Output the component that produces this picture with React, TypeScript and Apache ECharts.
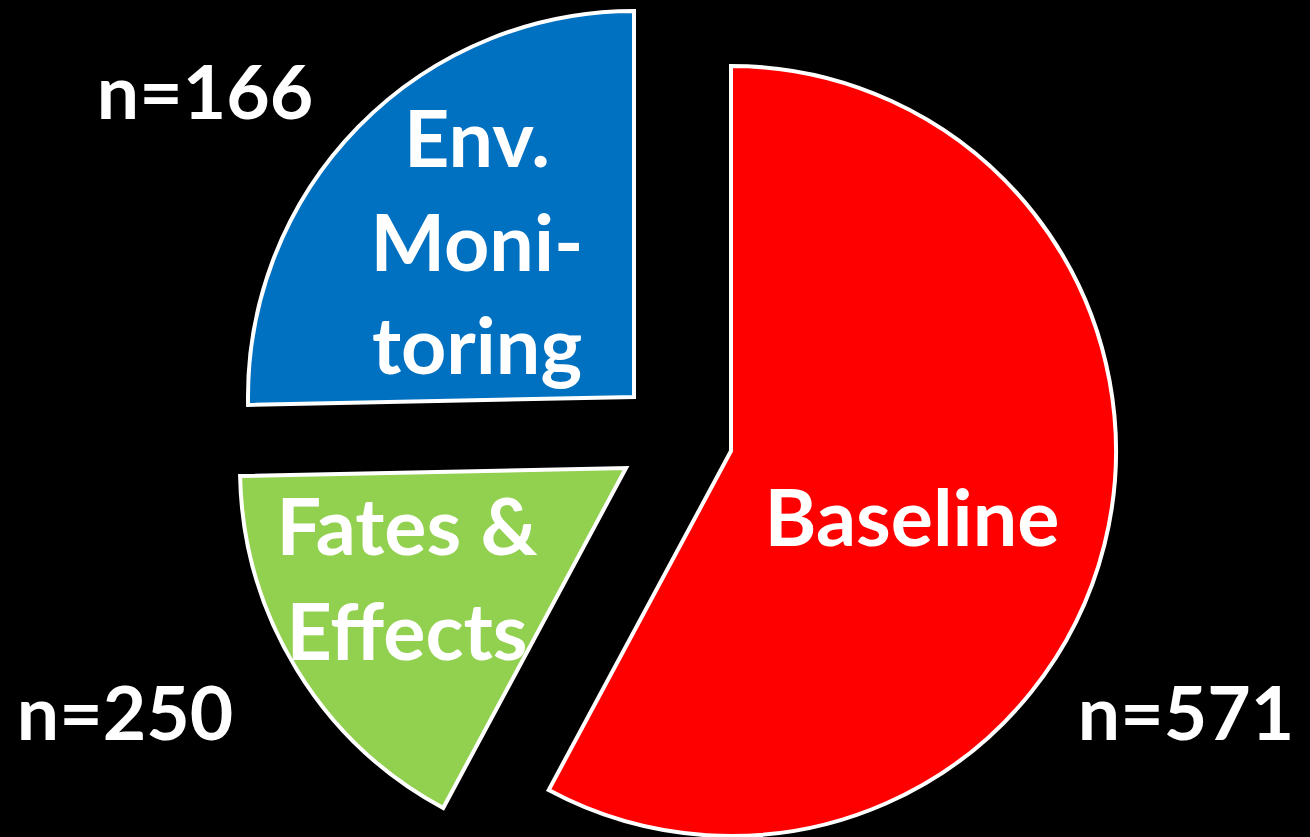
import React, { useEffect, useRef } from "react";
import * as echarts from "echarts";

// Data (clockwise from 12 o'clock)
const categories = ["Baseline", "Fates & Effects", "Env. Monitoring"];
const values = [571, 166, 250];
const colors = ["#FF0000", "#92D050", "#0070C0"];
// Slice label texts as drawn (with manual line breaks)
const sliceLabels = ["Baseline", "Fates &\nEffects", "Env.\nMoni-\ntoring"];
// Count annotations as shown on the picture
const countLabels = ["n=571", "n=250", "n=166"];

// Layout (positions / sizes)
const sliceCenters: [number, number][] = [
  [731, 451],
  [626, 468],
  [634, 397],
];
const sliceRadius = [385, 386, 386];
const sliceLabelPos: [number, number, number][] = [
  // x, y(center of block), lineHeight
  [912, 515, 104],
  [407, 577, 105],
  [477, 240, 103.5],
];
const countLabelPos: [number, number][] = [
  [1186, 711],
  [125, 711],
  [205, 90],
];

const FONT = "Lato";
const FS = 75;
const FS_SLICE = 79;

export default function App() {
  const ref = useRef<HTMLDivElement>(null);
  useEffect(() => {
    if (!ref.current) return;
    const chart = echarts.init(ref.current, undefined, { renderer: "svg" });
    const series = categories.map((_, si) => ({
      type: "pie",
      silent: true,
      z: 2,
      center: sliceCenters[si],
      radius: sliceRadius[si],
      startAngle: 90,
      clockwise: true,
      label: { show: false },
      labelLine: { show: false },
      emphasis: { disabled: true },
      data: categories.map((name, i) => ({
        name,
        value: values[i],
        itemStyle:
          i === si
            ? { color: colors[i], borderColor: "#FFFFFF", borderWidth: 4, borderJoin: "miter" }
            : { color: "transparent", borderWidth: 0 },
      })),
    }));
    const graphic: any[] = [];
    sliceLabels.forEach((t, i) => {
      graphic.push({
        type: "text",
        x: sliceLabelPos[i][0],
        y: sliceLabelPos[i][1],
        z: 100,
        silent: true,
        style: {
          text: t,
          fill: "#FFFFFF",
          fontFamily: FONT,
          fontWeight: "bold",
          fontSize: FS_SLICE,
          lineHeight: sliceLabelPos[i][2],
          align: "center",
          verticalAlign: "middle",
        },
      });
    });
    countLabels.forEach((t, i) => {
      graphic.push({
        type: "text",
        x: countLabelPos[i][0],
        y: countLabelPos[i][1],
        z: 100,
        silent: true,
        style: {
          text: t,
          fill: "#FFFFFF",
          fontFamily: FONT,
          fontWeight: "bold",
          fontSize: FS,
          align: "center",
          verticalAlign: "middle",
        },
      });
    });
    chart.setOption({
      animation: false,
      backgroundColor: "#000000",
      tooltip: { show: false },
      legend: { show: false },
      series,
      graphic,
    });
    return () => chart.dispose();
  }, []);
  return (
    <div
      ref={ref}
      style={{ position: "absolute", left: 0, top: 0, width: 1310, height: 837 }}
    />
  );
}
